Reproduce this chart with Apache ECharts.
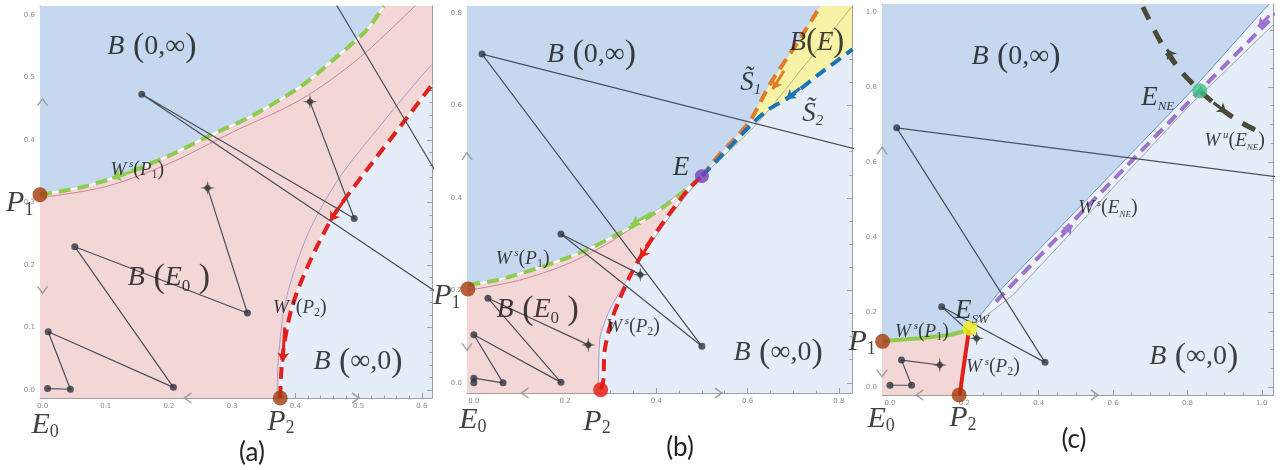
<!DOCTYPE html>
<html><head><meta charset="utf-8">
<script src="https://cdn.jsdelivr.net/npm/echarts@6/dist/echarts.min.js"></script>
<style>html,body{margin:0;padding:0;background:#fff}#c{width:1288px;height:470px}</style>
</head><body><div id="c"></div>
<script>
// ================= DATA =================
// axis ranges
const aRangeX = [-0.004, 0.616], aRangeY = [-0.013, 0.614];
const bRangeX = [-0.015, 0.829], bRangeY = [-0.022, 0.815];
const cRangeX = [-0.0215, 1.03], cRangeY = [-0.021, 1.021];
// tick values
const aTicks = [0, 0.1, 0.2, 0.3, 0.4, 0.5, 0.6];
const bTicks = [0, 0.2, 0.4, 0.6, 0.8];
const cTicks = [0, 0.2, 0.4, 0.6, 0.8, 1.0];

// ---- panel (a) ----
const aP1 = [-0.004, 0.312], aP2 = [0.376, -0.013];
const aGreen = [[-0.004,0.312],[0.013,0.315],[0.065,0.325],[0.118,0.341],[0.197,0.373],[0.261,0.405],[0.329,0.437],[0.408,0.485],[0.46,0.528],[0.513,0.576],[0.54,0.614]];
const aRed = [[0.376,-0.013],[0.377,0.02],[0.381,0.064],[0.392,0.123],[0.407,0.168],[0.433,0.227],[0.463,0.283],[0.513,0.352],[0.574,0.432],[0.616,0.488]];
const aPinkThin = [[0,0.308],[0.1,0.325],[0.2,0.362],[0.3,0.412],[0.408,0.464],[0.5,0.53],[0.595,0.62]];
const aPurpleThin = [[0.371,-0.013],[0.373,0.05],[0.385,0.144],[0.42,0.25],[0.47,0.34],[0.54,0.43],[0.602,0.505],[0.62,0.525]];
const aTraj1 = [[0.261,0.323],[0.324,0.123],[0.051,0.229],[0.207,0.004],[0.009,0.093],[0.044,0.001],[0.008,0.002]];
const aTraj2 = [[0.423,0.461],[0.493,0.274],[0.157,0.473],[0.75,0.07]];
const aTraj3 = [[0.40,0.726],[0.70,0.216]];
const aStars = [[0.261,0.323],[0.423,0.461]];
const aDots = [[0.324,0.123],[0.051,0.229],[0.207,0.004],[0.009,0.093],[0.044,0.001],[0.008,0.002],[0.493,0.274],[0.157,0.473]];
const aGreenArrows = [[[0.16,0.355],[0.11,0.339]]];
const aRedArrows = [[[0.478,0.305],[0.455,0.27]],[[0.383,0.10],[0.380,0.045]]];
const aAxisArrows = {up:[[0,0.46]], down:[[0,0.16]], left:[[0.23,-0.013]], right:[[0.495,-0.013]]};
const aLabels = [['B(0,∞)',0.173,0.549],['B(E0)',0.200,0.179],['Ws(P1)',0.150,0.352],['Ws(P2)',0.407,0.131],['B(∞,0)',0.499,0.045],['P1',-0.036,0.299],['E0',0.004,-0.056],['P2',0.377,-0.051]];

// ---- panel (b) ----
const bP1 = [-0.013, 0.203], bP2 = [0.278, -0.015], bE = [0.5, 0.447];
const bGreen = [[-0.012,0.212],[0.05,0.222],[0.094,0.234],[0.152,0.252],[0.24,0.284],[0.313,0.32],[0.379,0.356],[0.437,0.396],[0.5,0.447]];
const bRed = [[0.278,-0.015],[0.284,0.006],[0.287,0.071],[0.305,0.144],[0.342,0.23],[0.379,0.295],[0.43,0.367],[0.47,0.418],[0.5,0.447]];
const bPurpleThin = [[0.272,-0.022],[0.273,0.0],[0.276,0.093],[0.298,0.158],[0.327,0.208],[0.379,0.288],[0.43,0.36],[0.5,0.447]];
const bPinkThin = [[-0.012,0.2],[0.1,0.222],[0.2,0.255],[0.3,0.305],[0.4,0.372],[0.5,0.447]];
const bMidThin = [[0.5,0.447],[0.62,0.56],[0.72,0.68],[0.83,0.815]];
const bOrange = [[0.5,0.447],[0.535,0.49],[0.57,0.526],[0.607,0.569],[0.651,0.649],[0.709,0.735],[0.76,0.815]];
const bBlue = [[0.5,0.447],[0.563,0.512],[0.636,0.584],[0.695,0.62],[0.76,0.67],[0.83,0.721]];
const bTraj1 = [[0.251,0.082],[0.031,0.183],[0.191,0.001],[0.0,0.104],[0.064,0.0],[0.0,0.01],[0.0,0.0]];
const bTraj2 = [[0.365,0.234],[0.191,0.322],[0.5,0.079],[0.018,0.711],[0.95,0.477]];
const bStars = [[0.251,0.082],[0.365,0.234]];
const bDots = [[0.031,0.183],[0.191,0.001],[0.0,0.104],[0.064,0.0],[0.0,0.01],[0.0,0.0],[0.191,0.322],[0.5,0.079],[0.018,0.711]];
const bGreenArrows = [[[0.39,0.368],[0.345,0.342]]];
const bRedArrows = [[[0.39,0.31],[0.365,0.27]]];
const bOrangeArrows = [[[0.68,0.675],[0.655,0.635]]];
const bBlueArrows = [[[0.715,0.637],[0.685,0.614]]];
const bAxisArrows = {up:[[-0.015,0.49]], down:[[-0.015,0.078]], left:[[0.112,-0.022]], right:[[0.536,-0.022]]};
const bLabels = [['B(0,∞)',0.258,0.710],['B(E)',0.752,0.736],['S1',0.607,0.649],['S2',0.743,0.582],['E',0.454,0.465],['Ws(P1)',0.107,0.268],['B(E0)',0.140,0.158],['Ws(P2)',0.349,0.121],['B(∞,0)',0.667,0.065],['P1',-0.059,0.188],['E0',-0.002,-0.080],['P2',0.270,-0.084]];

// ---- panel (c) ----
const cP1 = [-0.02, 0.122], cP2 = [0.186, -0.021], cESW = [0.215, 0.157], cENE = [0.833, 0.79];
const cGreen = [[-0.018,0.123],[0.081,0.13],[0.161,0.139],[0.211,0.152]];
const cRed = [[0.211,0.152],[0.211,0.143],[0.202,0.081],[0.193,0.019],[0.188,-0.021]];
const cPurple = [[0.285,0.228],[0.5,0.45],[0.833,0.79],[1.04,0.997]];
const cUpperThin = [[0.215,0.157],[0.3,0.262],[0.5,0.47],[0.8,0.778],[1.0,1.0],[1.02,1.021]];
const cLowerThin = [[0.215,0.157],[0.33,0.245],[0.5,0.425],[0.8,0.745],[1.03,0.965]];
const cOlive = [[0.680,1.013],[0.734,0.909],[0.780,0.845],[0.833,0.79],[0.887,0.744],[0.941,0.707],[0.987,0.683]];
const cTraj1 = [[0.134,0.059],[0.031,0.072],[0.058,0.005],[0.0,0.005]];
const cTraj2 = [[0.233,0.130],[0.139,0.214],[0.417,0.066],[0.018,0.691],[1.2,0.540]];
const cStars = [[0.134,0.059],[0.233,0.130]];
const cDots = [[0.031,0.072],[0.058,0.005],[0.0,0.005],[0.139,0.214],[0.417,0.066],[0.018,0.691]];
const cPurpleArrows = [[[0.46,0.40],[0.49,0.431]],[[1.02,0.99],[0.99,0.96]]];
const cOliveArrows = [[[0.77,0.862],[0.745,0.9]],[[0.87,0.758],[0.905,0.732]]];
const cAxisArrows = {up:[[-0.0215,0.63]], down:[[-0.0215,0.037]], left:[[0.08,-0.021]], right:[[0.55,-0.021]]};
const cLabels = [['B(0,∞)',0.339,0.88],['ENE',0.720,0.771],['Wu(ENE)',0.927,0.656],['Ws(ENE)',0.586,0.477],['ESW',0.220,0.203],['Ws(P1)',0.086,0.147],['Ws(P2)',0.277,0.053],['B(∞,0)',0.817,0.080],['P1',-0.075,0.12],['E0',-0.024,-0.085],['P2',0.196,-0.083]];

// ================= STYLE =================
const SERIF = 'Liberation Serif';
const INK = '#121212';
const C_BLUE = '#c6d8ef', C_PINK = '#f3d6d6', C_LIGHT = '#e5eef8', C_YELLOW = '#f8f2a6', C_STRIP = '#eef3fa';
const C_GREEN = '#8fcb4e', C_RED = '#e2201c', C_ORANGE = '#e07c28', C_DBLUE = '#1c74b6', C_PURPLE = '#9c74cf', C_OLIVE = '#4a4a38';
const C_TRAJ = '#4c4f5b', C_DOT = '#2f3442', C_FRAME = '#9f9f9f';

const RICH = {
  Bi:{fontFamily:SERIF,fontStyle:'italic',fontSize:28,color:INK,lineHeight:34},
  Bp:{fontFamily:SERIF,fontSize:34,color:INK,lineHeight:34},
  Br:{fontFamily:SERIF,fontSize:28,color:INK,lineHeight:34},
  Bs:{fontFamily:SERIF,fontSize:17,color:INK,lineHeight:14,verticalAlign:'bottom'},
  Ci:{fontFamily:SERIF,fontStyle:'italic',fontSize:27,color:INK,lineHeight:32},
  Cp:{fontFamily:SERIF,fontSize:33,color:INK,lineHeight:32},
  Wi:{fontFamily:SERIF,fontStyle:'italic',fontSize:19,color:INK,lineHeight:22},
  Wu:{fontFamily:SERIF,fontStyle:'italic',fontSize:11,color:INK,lineHeight:10,verticalAlign:'top'},
  Wp:{fontFamily:SERIF,fontSize:20,color:INK,lineHeight:22},
  Ws:{fontFamily:SERIF,fontSize:12,color:INK,lineHeight:8,verticalAlign:'bottom'},
  Wn:{fontFamily:SERIF,fontStyle:'italic',fontSize:9,color:INK,lineHeight:8,verticalAlign:'bottom'},
  Pi:{fontFamily:SERIF,fontStyle:'italic',fontSize:30,color:INK,lineHeight:32},
  Ps:{fontFamily:SERIF,fontSize:18,color:INK,lineHeight:12,verticalAlign:'bottom'},
  Ei:{fontFamily:SERIF,fontStyle:'italic',fontSize:27,color:INK,lineHeight:30},
  Es:{fontFamily:SERIF,fontStyle:'italic',fontSize:15,color:INK,lineHeight:11,verticalAlign:'bottom'},
  En:{fontFamily:SERIF,fontStyle:'italic',fontSize:13,color:INK,lineHeight:11,verticalAlign:'bottom'}
};
const FMT = {
  'B(0,∞)':'{Bi|B}{Bp| (}{Br|0,∞}{Bp|)}',
  'B(∞,0)':'{Bi|B}{Bp| (}{Br|∞,0}{Bp|)}',
  'B(E0)':'{Bi|B}{Bp| (}{Bi|E}{Bs|0}{Bp| )}',
  'B(E)':'{Ci|B}{Cp|(}{Ci|E}{Cp|)}',
  'Ws(P1)':'{Wi|W}{Wu| s}{Wp|(}{Wi|P}{Ws|1}{Wp|)}',
  'Ws(P2)':'{Wi|W}{Wu| s}{Wp|(}{Wi|P}{Ws|2}{Wp|)}',
  'Ws(ENE)':'{Wi|W}{Wu| s}{Wp|(}{Wi|E}{Wn|NE}{Wp|)}',
  'Wu(ENE)':'{Wi|W}{Wu| u}{Wp|(}{Wi|E}{Wn|NE}{Wp|)}',
  'P1':'{Pi|P}{Ps|1}', 'P2':'{Pi|P}{Ps|2}', 'E0':'{Pi|E}{Ps|0}',
  'E':'{Ei|E}', 'ENE':'{Ei|E}{En|NE}', 'ESW':'{Ei|E}{En|SW}',
  'S1':'{Ei|S\u0303}{Es|1}', 'S2':'{Ei|S\u0303}{Es|2}'
};
const STAR = 'path://M50,0 L59,41 L100,50 L59,59 L50,100 L41,59 L0,50 L41,41 Z';
const CHEV = {
  up:'path://M0,10 L6,0 L12,10', down:'path://M0,0 L6,10 L12,0',
  left:'path://M10,0 L0,6 L10,12', right:'path://M0,0 L10,6 L0,12'
};

// ================= HELPERS =================
function minorList(r, step) {
  const out = [];
  const start = Math.ceil(r[0] / step - 1e-9);
  for (let k = start; k * step <= r[1] + 1e-9; k++) out.push(+(k * step).toFixed(4));
  return out;
}
function axisSet(gi, dim, range, majors, minors) {
  const sides = dim === 'x' ? ['bottom', 'top'] : ['left', 'right'];
  const base = () => ({type:'value', gridIndex:gi, min:range[0], max:range[1], splitLine:{show:false}, axisPointer:{show:false}});
  const ls = {color:C_FRAME, width:1};
  return [
    Object.assign(base(), {position:sides[0], axisLine:{show:true,onZero:false,lineStyle:ls},
      axisTick:{show:true,inside:true,length:5,customValues:majors,lineStyle:ls},
      axisLabel:{show:true,customValues:majors,formatter:v=>v.toFixed(1),fontSize:7,color:'#8a8a8a',margin:5,fontFamily:'DejaVu Sans'}}),
    Object.assign(base(), {position:sides[1], axisLine:{show:true,onZero:false,lineStyle:ls},
      axisTick:{show:true,inside:true,length:5,customValues:majors,lineStyle:ls}, axisLabel:{show:false}}),
    Object.assign(base(), {position:sides[0], axisLine:{show:false,onZero:false},
      axisTick:{show:true,inside:true,length:2.5,customValues:minors,lineStyle:ls}, axisLabel:{show:false}}),
    Object.assign(base(), {position:sides[1], axisLine:{show:false,onZero:false},
      axisTick:{show:true,inside:true,length:2.5,customValues:minors,lineStyle:ls}, axisLabel:{show:false}})
  ];
}
const ax = gi => ({xAxisIndex:gi*4, yAxisIndex:gi*4});
function poly(gi, pts, fill, z) {
  return Object.assign({type:'custom', coordinateSystem:'cartesian2d', silent:true, z:z||1, clip:true,
    data:[pts[0]], renderItem:(p, api) => ({type:'polygon', shape:{points:pts.map(q => api.coord(q))}, style:{fill:fill}})}, ax(gi));
}
function line(gi, pts, color, width, type, z, smooth) {
  return Object.assign({type:'line', data:pts, symbol:'none', showSymbol:false, silent:true,
    smooth: smooth === undefined ? 0.3 : smooth, lineStyle:{color:color, width:width, type:type||'solid', cap:'butt'}, z:z}, ax(gi));
}
function dots(gi, pts, color, size, symbol, z) {
  return Object.assign({type:'scatter', data:pts, symbol:symbol||'circle', symbolSize:size, silent:true, clip:false,
    itemStyle:{color:color}, z:z||6}, ax(gi));
}
function arrows(gi, segs, color) {
  return Object.assign({type:'lines', coordinateSystem:'cartesian2d', polyline:false, silent:true, z:5,
    symbol:['none','arrow'], symbolSize:9, lineStyle:{color:color, width:3, opacity:1},
    data:segs.map(s => ({coords:s}))}, ax(gi));
}
function axisArrows(gi, spec) {
  const data = [];
  for (const k of Object.keys(spec)) for (const p of spec[k]) data.push({value:p, symbol:CHEV[k], symbolSize:(k==='up'||k==='down')?[10,7]:[7,10]});
  return Object.assign({type:'scatter', data, silent:true, clip:false, z:7,
    itemStyle:{color:'rgba(0,0,0,0)', borderColor:'#8c8c8c', borderWidth:1.3}}, ax(gi));
}
function labels(gi, list) {
  return Object.assign({type:'scatter', silent:true, clip:false, z:9, symbolSize:1,
    itemStyle:{color:'rgba(0,0,0,0)'},
    label:{show:true, position:'inside', rich:RICH},
    data:list.map(l => ({value:[l[1], l[2]], label:{formatter:FMT[l[0]]}}))}, ax(gi));
}
const rev = a => a.slice().reverse();

// ================= BUILD =================
const series = [];
// --- (a) ---
series.push(poly(0, [[aRangeX[0],aP1[1]], ...aGreen, [aRangeX[0],aRangeY[1]]], C_BLUE));
series.push(poly(0, [[aRangeX[0],aRangeY[0]], [aRangeX[0],aP1[1]], ...aGreen, [aRangeX[1],aRangeY[1]], ...rev(aRed)], C_PINK));
series.push(line(0, aPinkThin, '#c98597', 1, 'solid', 2));
series.push(line(0, aPurpleThin, '#a89dcc', 1, 'solid', 2));
series.push(line(0, aGreen, '#ffffff', 2, 'solid', 3));
series.push(line(0, aRed, '#ffffff', 2, 'solid', 3));
series.push(line(0, aGreen, C_GREEN, 4, [12,7], 4));
series.push(line(0, aRed, C_RED, 4, [12,7], 4));
series.push(arrows(0, aGreenArrows, C_GREEN));
series.push(arrows(0, aRedArrows, C_RED));
series.push(line(0, aTraj1, C_TRAJ, 1.2, 'solid', 5, false));
series.push(line(0, aTraj2, C_TRAJ, 1.2, 'solid', 5, false));
series.push(line(0, aTraj3, C_TRAJ, 1.2, 'solid', 5, false));
series.push(dots(0, aDots, C_DOT, 7));
series.push(dots(0, aStars, '#4a4a4a', 15, STAR));
series.push(dots(0, aStars, '#3a3a3a', 6));
series.push(dots(0, [aP1, aP2], '#a3390d', 15, 'circle', 8));
series.push(axisArrows(0, aAxisArrows));
series.push(labels(0, aLabels));
// --- (b) ---
series.push(poly(1, [[bRangeX[0],bP1[1]], ...bGreen, ...bOrange.slice(1), [bRangeX[0],bRangeY[1]]], C_BLUE));
series.push(poly(1, [[bRangeX[0],bRangeY[0]], [bRangeX[0],bP1[1]], ...bGreen, ...rev(bPurpleThin)], C_PINK));
series.push(poly(1, [...bOrange.filter(p => p[0] >= 0.6), [bRangeX[1],bRangeY[1]], ...rev(bBlue.filter(p => p[0] >= 0.63))], C_YELLOW));
series.push(line(1, bPinkThin, '#c98597', 1, 'solid', 2));
series.push(line(1, bPurpleThin, '#a89dcc', 1, 'solid', 2));
series.push(line(1, bMidThin, '#b9b07a', 1, 'solid', 2));
series.push(line(1, bGreen, '#ffffff', 2, 'solid', 3));
series.push(line(1, bRed, '#ffffff', 2, 'solid', 3));
series.push(line(1, bGreen, C_GREEN, 4, [12,7], 4));
series.push(line(1, bRed, C_RED, 4, [12,7], 4));
series.push(line(1, bOrange, C_ORANGE, 4, [12,7], 4));
series.push(line(1, bBlue, C_DBLUE, 4, [12,7], 4));
series.push(arrows(1, bGreenArrows, C_GREEN));
series.push(arrows(1, bRedArrows, C_RED));
series.push(arrows(1, bOrangeArrows, C_ORANGE));
series.push(arrows(1, bBlueArrows, C_DBLUE));
series.push(line(1, bTraj1, C_TRAJ, 1.2, 'solid', 5, false));
series.push(line(1, bTraj2, C_TRAJ, 1.2, 'solid', 5, false));
series.push(dots(1, bDots, C_DOT, 7));
series.push(dots(1, bStars, '#4a4a4a', 15, STAR));
series.push(dots(1, bStars, '#3a3a3a', 6));
series.push(dots(1, [bP1], '#a3390d', 15, 'circle', 8));
series.push(dots(1, [bP2], '#e8170c', 15, 'circle', 8));
series.push(dots(1, [bE], '#7a3db6', 14, 'circle', 8));
series.push(axisArrows(1, bAxisArrows));
series.push(labels(1, bLabels));
// --- (c) ---
series.push(poly(2, [[cRangeX[0],cP1[1]], ...cGreen, ...cUpperThin, [cRangeX[0],cRangeY[1]]], C_BLUE));
series.push(poly(2, [...cUpperThin, [cRangeX[1],cRangeY[1]], ...rev(cLowerThin)], C_STRIP));
series.push(poly(2, [[cRangeX[0],cRangeY[0]], [cRangeX[0],cP1[1]], ...cGreen, ...cRed], C_PINK));
series.push(line(2, cUpperThin, '#6d8fd4', 1, 'solid', 2, false));
series.push(line(2, cLowerThin, '#a3a3bf', 1, 'solid', 2, false));
series.push(line(2, cGreen, C_GREEN, 4, 'solid', 4, false));
series.push(line(2, cRed, C_RED, 4, 'solid', 4, false));
series.push(line(2, cPurple, C_PURPLE, 4, [12,7], 4, false));
series.push(line(2, cOlive, C_OLIVE, 5, [14,12], 4));
series.push(arrows(2, cPurpleArrows, C_PURPLE));
series.push(arrows(2, cOliveArrows, C_OLIVE));
series.push(line(2, cTraj1, C_TRAJ, 1.2, 'solid', 5, false));
series.push(line(2, cTraj2, C_TRAJ, 1.2, 'solid', 5, false));
series.push(dots(2, cDots, C_DOT, 7));
series.push(dots(2, cStars, '#4a4a4a', 15, STAR));
series.push(dots(2, cStars, '#3a3a3a', 6));
series.push(dots(2, [cP1, cP2], '#a3390d', 15, 'circle', 8));
series.push(dots(2, [cESW], '#f4f21c', 15, 'circle', 8));
series.push(dots(2, [cENE], '#3cc07e', 15, 'circle', 8));
series.push(axisArrows(2, cAxisArrows));
series.push(labels(2, cLabels));

const gridBase = {show:true, backgroundColor:C_LIGHT, borderWidth:0, containLabel:false, outerBoundsMode:'none'};
const option = {
  animation:false,
  backgroundColor:'#ffffff',
  grid:[
    Object.assign({left:40, top:6, width:392, height:392}, gridBase),
    Object.assign({left:467, top:6, width:385, height:387}, gridBase),
    Object.assign({left:882, top:4, width:391, height:391}, gridBase)
  ],
  xAxis:[...axisSet(0,'x',aRangeX,aTicks,minorList(aRangeX,0.02)), ...axisSet(1,'x',bRangeX,bTicks,minorList(bRangeX,0.05)), ...axisSet(2,'x',cRangeX,cTicks,minorList(cRangeX,0.05))],
  yAxis:[...axisSet(0,'y',aRangeY,aTicks,minorList(aRangeY,0.02)), ...axisSet(1,'y',bRangeY,bTicks,minorList(bRangeY,0.05)), ...axisSet(2,'y',cRangeY,cTicks,minorList(cRangeY,0.05))],
  graphic:[
    {type:'text', x:252, y:453, style:{text:'(a)', textAlign:'center', textVerticalAlign:'middle', font:'26px Lato', fill:'#222'}},
    {type:'text', x:680, y:448, style:{text:'(b)', textAlign:'center', textVerticalAlign:'middle', font:'26px Lato', fill:'#222'}},
    {type:'text', x:1074, y:440, style:{text:'(c)', textAlign:'center', textVerticalAlign:'middle', font:'26px Lato', fill:'#222'}}
  ],
  series:series
};
const chart = echarts.init(document.getElementById('c'), null, {renderer:'canvas', width:1288, height:470});
chart.setOption(option);
</script>
</body></html>
